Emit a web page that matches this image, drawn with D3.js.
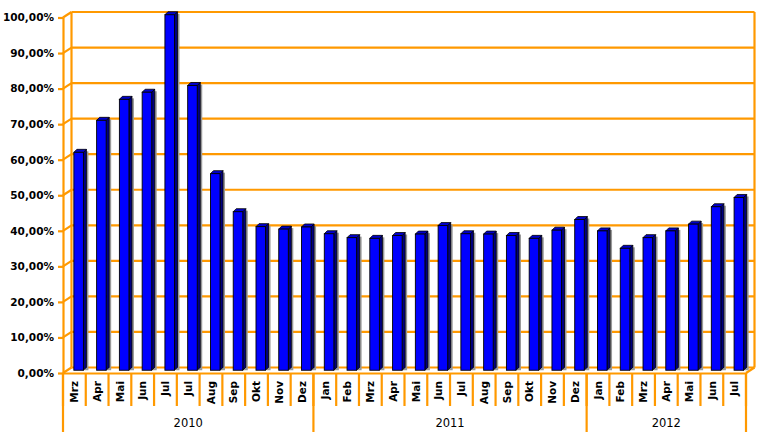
<!DOCTYPE html>
<html>
<head>
<meta charset="utf-8">
<script src="https://cdn.jsdelivr.net/npm/d3@7"></script>
<style>
  body { margin: 0; background: #fff; }
  text { font-family: "DejaVu Sans", Verdana, sans-serif; }
</style>
</head>
<body>
<div id="chart"></div>
<script>
const months = ["Mrz","Apr","Mai","Jun","Jul","Jul","Aug","Sep","Okt","Nov","Dez",
                "Jan","Feb","Mrz","Apr","Mai","Jun","Jul","Aug","Sep","Okt","Nov","Dez",
                "Jan","Feb","Mrz","Apr","Mai","Jun","Jul"];
const years = ["2010","2011","2012"];
const yearCounts = [11, 12, 7];
const values = [61.3, 70.3, 76.2, 78.2, 100, 80.1, 55.3, 44.6, 40.4, 39.7, 40.3,
                38.4, 37.3, 37.1, 37.9, 38.3, 40.7, 38.4, 38.3, 37.9, 37.1, 39.4, 42.4,
                39.2, 34.3, 37.3, 39.2, 41.1, 46.0, 48.6];
const yTicks = [0, 10, 20, 30, 40, 50, 60, 70, 80, 90, 100];

const W = 760, H = 435;
const orange = "#FF9900";
// 3D depth of the plot walls
const DX = 8.5, DY = -5.5;
// depth of each bar
const BX = 3, BY = -3;

const x = d3.scaleBand()
    .domain(d3.range(values.length))
    .range([63, 746]);

const y = d3.scaleLinear()
    .domain([0, 100])
    .range([373, 17.5]);

const svg = d3.select("#chart").append("svg")
    .attr("width", W)
    .attr("height", H);

const x0 = x.range()[0], x1 = x.range()[1];

// back wall gridlines + left wall diagonals
const grid = svg.append("g")
    .attr("stroke", orange)
    .attr("stroke-width", 2.2)
    .attr("fill", "none");

grid.selectAll(".gback")
    .data(yTicks)
  .enter().append("line")
    .attr("x1", x0 + DX).attr("x2", x1 + DX)
    .attr("y1", d => y(d) + DY).attr("y2", d => y(d) + DY);

grid.selectAll(".gside")
    .data(yTicks)
  .enter().append("line")
    .attr("x1", x0).attr("x2", x0 + DX)
    .attr("y1", d => y(d)).attr("y2", d => y(d) + DY);

// back verticals
grid.append("line")
    .attr("x1", x0 + DX).attr("x2", x0 + DX)
    .attr("y1", y(100) + DY).attr("y2", y(0) + DY);
grid.append("line")
    .attr("x1", x1 + DX).attr("x2", x1 + DX)
    .attr("y1", y(100) + DY).attr("y2", y(0) + DY);
// floor right edge
grid.append("line")
    .attr("x1", x1).attr("x2", x1 + DX)
    .attr("y1", y(0)).attr("y2", y(0) + DY);

// bars, sitting at mid depth
const bw = x.bandwidth() * 0.42;
const bars = svg.append("g")
    .attr("transform", "translate(" + (DX / 2) + "," + (DY / 2) + ")");

const bar = bars.selectAll(".bar")
    .data(values)
  .enter().append("g")
    .attr("class", "bar");

const bx = (d, i) => x(i) + (x.bandwidth() - bw) / 2;

// shadow
bar.append("rect")
    .attr("x", (d, i) => bx(d, i) + bw + 1)
    .attr("y", d => y(d) + BY + 2)
    .attr("width", BX + 1)
    .attr("height", d => y(0) - y(d) - BY - 2)
    .attr("fill", "#999");

// side face
bar.append("path")
    .attr("d", (d, i) => {
        const l = bx(d, i) + bw;
        return "M" + l + "," + y(d) + "L" + (l + BX) + "," + (y(d) + BY) +
               "L" + (l + BX) + "," + (y(0) + BY) + "L" + l + "," + y(0) + "Z";
    })
    .attr("fill", "#000080")
    .attr("stroke", "#000")
    .attr("stroke-width", 0.8);

// top face
bar.append("path")
    .attr("d", (d, i) => {
        const l = bx(d, i);
        return "M" + l + "," + y(d) + "L" + (l + BX) + "," + (y(d) + BY) +
               "L" + (l + bw + BX) + "," + (y(d) + BY) + "L" + (l + bw) + "," + y(d) + "Z";
    })
    .attr("fill", "#0000CC")
    .attr("stroke", "#000")
    .attr("stroke-width", 0.8);

// front face
bar.append("rect")
    .attr("x", bx)
    .attr("y", d => y(d))
    .attr("width", bw)
    .attr("height", d => y(0) - y(d))
    .attr("fill", "#0000FF")
    .attr("stroke", "#000")
    .attr("stroke-width", 0.9);

// y axis on the front edge
const yAxis = svg.append("g")
    .attr("transform", "translate(" + x0 + ",0)")
    .call(d3.axisLeft(y)
        .tickValues(yTicks)
        .tickSize(5)
        .tickSizeOuter(0)
        .tickPadding(4)
        .tickFormat(d => d3.format(".2f")(d).replace(".", ",") + "%"));

yAxis.selectAll("path, line")
    .attr("stroke", orange)
    .attr("stroke-width", 2.2);
yAxis.selectAll("text")
    .attr("fill", "#000")
    .style("font-size", "10.5px")
    .style("font-weight", "bold");

// category axis
const xAxis = svg.append("g")
    .attr("transform", "translate(0," + y(0) + ")")
    .call(d3.axisBottom(x)
        .tickSize(0)
        .tickSizeOuter(0)
        .tickFormat(i => months[i]));

xAxis.select(".domain")
    .attr("stroke", orange)
    .attr("stroke-width", 2.2);
xAxis.selectAll("text")
    .attr("fill", "#000")
    .attr("transform", "rotate(-90)")
    .attr("x", -8)
    .attr("y", 0)
    .attr("dy", "0.35em")
    .style("text-anchor", "end")
    .style("font-size", "10.5px")
    .style("font-weight", "bold");

// month separators
const bounds = d3.range(values.length + 1).map(i => x0 + i * x.step());
svg.append("g").selectAll("line")
    .data(bounds)
  .enter().append("line")
    .attr("x1", d => d).attr("x2", d => d)
    .attr("y1", y(0)).attr("y2", 406)
    .attr("stroke", orange)
    .attr("stroke-width", 2.2);

// year groups
const starts = [0];
yearCounts.forEach((c, k) => starts.push(starts[k] + c));

svg.append("g").selectAll("line")
    .data(starts)
  .enter().append("line")
    .attr("x1", d => x0 + d * x.step()).attr("x2", d => x0 + d * x.step())
    .attr("y1", y(0)).attr("y2", 432)
    .attr("stroke", orange)
    .attr("stroke-width", 2.2);

svg.append("g").selectAll("text")
    .data(years)
  .enter().append("text")
    .attr("x", (d, k) => x0 + (starts[k] + yearCounts[k] / 2) * x.step())
    .attr("y", 423)
    .attr("dy", "0.35em")
    .attr("text-anchor", "middle")
    .style("font-size", "11.5px")
    .text(d => d);
</script>
</body>
</html>
